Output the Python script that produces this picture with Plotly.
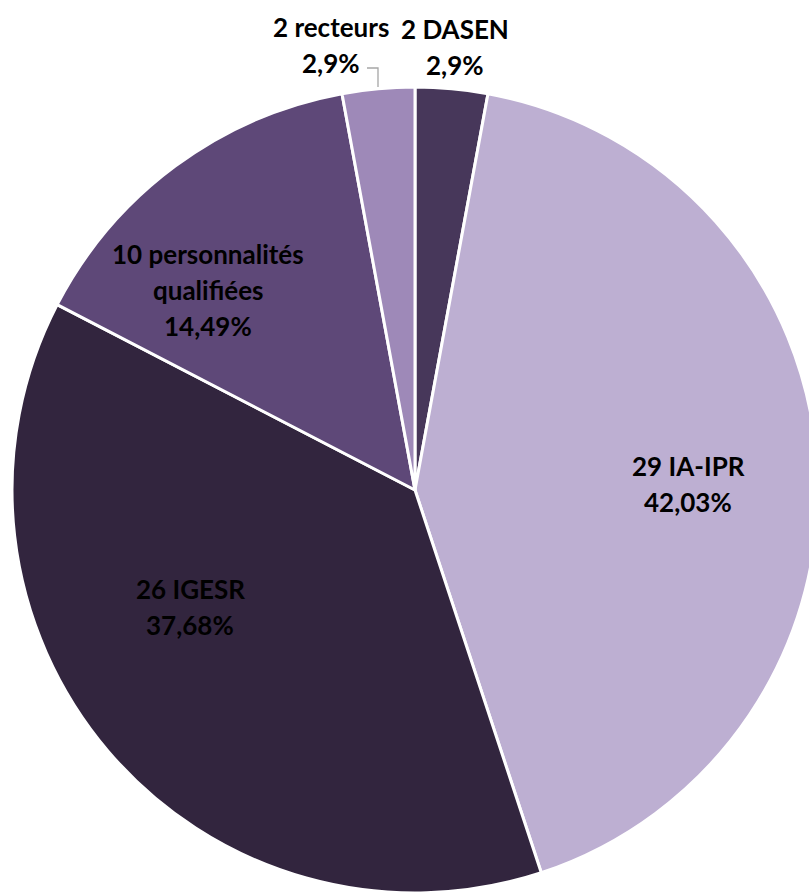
import plotly.graph_objects as go

# ---- data ----
categories = ["DASEN", "IA-IPR", "IGESR", "personnalités qualifiées", "recteurs"]
label_names = [["2 DASEN"], ["29 IA-IPR"], ["26 IGESR"], ["10 personnalités", "qualifiées"], ["2 recteurs"]]
values = [2, 29, 26, 10, 2]
colors = ["#47375A", "#BDAFD2", "#32253E", "#5E4878", "#9E89B8"]

total = sum(values)


def fmt_pct(v):
    s = f"{v / total * 100:.2f}".rstrip("0").rstrip(".")
    return s.replace(".", ",") + "%"


pcts = [fmt_pct(v) for v in values]

# ---- layout geometry (pixels) ----
W, H = 830, 893
L, R, T, B = 12, 12, 87, 0
PW, PH = W - L - R, H - T - B
LINE_H = 36


def px2paper(x, y):
    return (x - L) / PW, 1 - (y - T) / PH


# label block centres (pixels)
label_pos = [(455, 47), (688, 484), (190, 607), (208, 290), (331, 45)]

fig = go.Figure(
    go.Pie(
        labels=categories,
        values=values,
        sort=False,
        direction="clockwise",
        rotation=0,
        marker=dict(colors=colors, line=dict(color="white", width=3)),
        textinfo="none",
        hoverinfo="label+value+percent",
        showlegend=False,
    )
)

annotations = []
for name_lines, pct, (x, y) in zip(label_names, pcts, label_pos):
    lines = name_lines + [pct]
    n = len(lines)
    for i, line in enumerate(lines):
        ly = y + (i - (n - 1) / 2) * LINE_H
        ax, ay = px2paper(x, ly)
        annotations.append(
            dict(
                x=ax, y=ay, xref="paper", yref="paper",
                text=f"<b>{line}</b>",
                showarrow=False, xanchor="center", yanchor="middle",
                font=dict(family="Lato", size=26, color="#000000"),
            )
        )

# leader line for "2 recteurs"
p1 = px2paper(367, 68)
p2 = px2paper(378, 68)
p3 = px2paper(378, 87)
shapes = [
    dict(
        type="path", xref="paper", yref="paper",
        path=f"M {p1[0]},{p1[1]} L {p2[0]},{p2[1]} L {p3[0]},{p3[1]}",
        line=dict(color="#A6A6A6", width=1.3),
    )
]

fig.update_layout(
    width=W, height=H,
    margin=dict(l=L, r=R, t=T, b=B),
    paper_bgcolor="white",
    plot_bgcolor="white",
    annotations=annotations,
    shapes=shapes,
)

fig.write_html(
    "out.html",
    config={"displayModeBar": False},
    post_script="document.body.style.margin='0';document.body.style.overflow='hidden';document.documentElement.style.overflow='hidden';",
)
